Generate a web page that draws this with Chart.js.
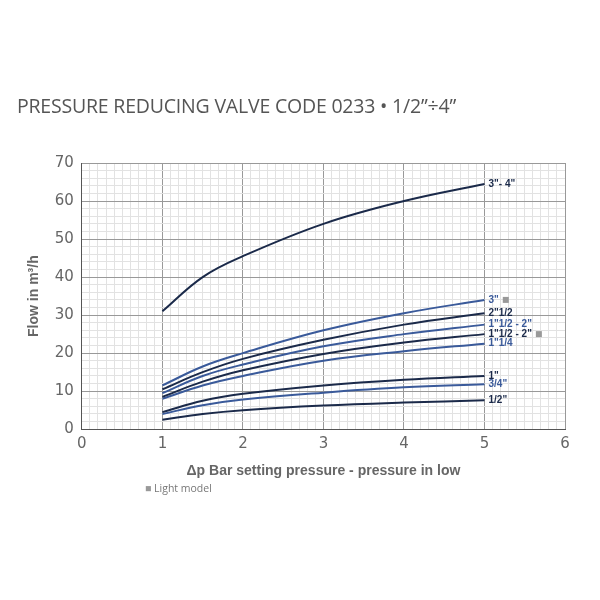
<!DOCTYPE html>
<html>
<head>
<meta charset="utf-8">
<script src="https://cdn.jsdelivr.net/npm/chart.js@4"></script>
<style>
  body { margin:0; background:#fff; font-family:"DejaVu Sans", sans-serif; }
  #wrap { position:relative; width:600px; height:600px; }
  #title { position:absolute; left:17px; top:92px; font-size:19.5px; color:#555; font-family:"Open Sans", sans-serif; letter-spacing:-0.2px; }
  #note { position:absolute; left:145px; top:481px; font-size:10.5px; color:#777; font-family:"Open Sans", sans-serif; }
  canvas { position:absolute; left:0; top:0; }
</style>
</head>
<body>
<div id="wrap">
  <canvas id="chart" width="600" height="600"></canvas>
  <div id="title">PRESSURE REDUCING VALVE CODE 0233 • 1/2”÷4”</div>
  <div id="note"><span style="color:#999">■</span> Light model</div>
</div>
<script>
// pressure values (bar)
var xs = [1, 1.5, 2, 3, 4, 5];

// flow values, m3/h, one array per size
var s3_4     = [31, 40, 45.5, 54, 60, 64.5];
var s3       = [11.5, 16.5, 20, 26, 30.5, 34];
var s2_12    = [10.5, 15, 18.5, 23.5, 27.5, 30.5];
var s112_2b  = [9.5, 14, 17, 21.8, 25, 27.5];
var s112_2d  = [8.5, 12.5, 15.5, 19.8, 22.8, 25];
var s114     = [8, 11.5, 14, 18, 20.5, 22.5];
var s1       = [4.5, 7.5, 9.3, 11.5, 13, 14];
var s34      = [4, 6.3, 7.8, 9.6, 11, 11.8];
var s12      = [2.5, 4, 5, 6.2, 7, 7.6];

var dark = '#1b2a4a';
var blue = '#3a5a9a';

var series = [
  {label: '3"- 4"',       y: s3_4,    color: dark, light: false},
  {label: '3"',           y: s3,      color: blue, light: true},
  {label: '2"1/2',        y: s2_12,   color: dark, light: false},
  {label: '1"1/2 - 2"',   y: s112_2b, color: blue, light: false},
  {label: '1"1/2 - 2"',   y: s112_2d, color: dark, light: true},
  {label: '1"1/4',        y: s114,    color: blue, light: false},
  {label: '1"',           y: s1,      color: dark, light: false},
  {label: '3/4"',         y: s34,     color: blue, light: false},
  {label: '1/2"',         y: s12,     color: dark, light: false}
];

var endLabels = {
  id: 'endLabels',
  afterDatasetsDraw(chart) {
    let c = chart.ctx;
    c.save();
    c.font = 'bold 10px "Liberation Sans", sans-serif';
    c.textBaseline = 'middle';
    chart.data.datasets.forEach((ds, i) => {
      let pts = chart.getDatasetMeta(i).data;
      let p = pts[pts.length - 1];
      let s = series[i];
      c.fillStyle = s.color;
      c.fillText(s.label, p.x + 4, p.y);
      if (s.light) {
        let w = c.measureText(s.label).width;
        c.fillStyle = '#999';
        c.fillRect(p.x + 4 + w + 4, p.y - 3, 6, 6);
      }
    });
    c.restore();
  }
};

new Chart(document.getElementById('chart'), {
  type: 'line',
  data: {
    datasets: series.map(s => ({
      label: s.label,
      data: xs.map((x, i) => ({x: x, y: s.y[i]})),
      borderColor: s.color,
      borderWidth: 2,
      pointRadius: 0,
      tension: 0.4,
      fill: false
    }))
  },
  options: {
    animation: false,
    responsive: false,
    layout: {padding: {top: 163, left: 22, right: 35, bottom: 116}},
    plugins: {legend: {display: false}, tooltip: {enabled: false}},
    scales: {
      x: {
        type: 'linear', min: 0, max: 6,
        border: {color: '#555'},
        grid: {
          color: ctx => Math.abs(ctx.tick.value - Math.round(ctx.tick.value)) < 1e-6 ? '#999' : '#e2e2e2',
          drawTicks: false
        },
        ticks: {
          stepSize: 0.1, autoSkip: false, maxRotation: 0, padding: 6,
          color: '#666', font: {size: 15, family: '"DejaVu Sans", sans-serif'},
          callback: v => Math.abs(v - Math.round(v)) < 1e-6 ? Math.round(v) : ''
        },
        title: {display: true, text: 'Δp Bar setting pressure - pressure in low',
                color: '#666', font: {size: 14, weight: 'bold', family: '"Liberation Sans", sans-serif'},
                padding: {top: 4}}
      },
      y: {
        min: 0, max: 70,
        border: {color: '#555'},
        grid: {
          color: ctx => ctx.tick.value % 10 === 0 ? '#999' : '#e2e2e2',
          drawTicks: false
        },
        ticks: {
          stepSize: 2, autoSkip: false, padding: 8,
          color: '#666', font: {size: 15, family: '"DejaVu Sans", sans-serif'},
          callback: v => v % 10 === 0 ? v : ''
        },
        title: {display: true, text: 'Flow in m³/h',
                color: '#666', font: {size: 14, weight: 'bold', family: '"Liberation Sans", sans-serif'}}
      }
    }
  },
  plugins: [endLabels]
});
</script>
</body>
</html>
